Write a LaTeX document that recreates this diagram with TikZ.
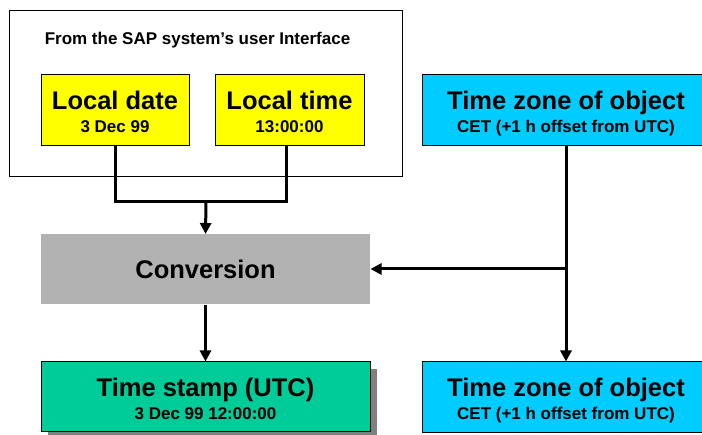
\documentclass[tikz,border=0pt]{standalone}
\usepackage{fontspec}
\setmainfont{Liberation Sans}
\usetikzlibrary{arrows.meta, shadows}

\definecolor{uiyellow}{HTML}{FFFF00}
\definecolor{zonecyan}{HTML}{00CCFF}
\definecolor{convgray}{HTML}{B2B2B2}
\definecolor{stampgreen}{HTML}{00CC99}
\definecolor{shadowgray}{HTML}{808080}

\newcommand{\bigtxt}{\fontsize{25.5}{22.7}\selectfont\bfseries}
\newcommand{\smalltxt}{\fontsize{17}{22.7}\selectfont\bfseries}
% title line over a small second line, baseline of the title at the box centre
\newcommand{\twolines}[2]{#1\rule{0pt}{25.7pt}\\{\smalltxt #2\rule[-4pt]{0pt}{4pt}}}

\begin{document}
\begin{tikzpicture}[x=1pt, y=-1pt]
    \useasboundingbox (0,0) rectangle (702,435);
    \tikzstyle{every node} = [rectangle, draw, line width=1pt, inner sep=0pt, align=center, font=\bigtxt]
    \tikzstyle{link} = [line width=3pt]
    \tikzstyle{tip} = [link, -{Triangle[length=11pt, width=11pt]}]

    % user interface frame
    \node [minimum width=393, minimum height=166, fill=white] (ui) at (205.5, 94) {};
    \node [draw=none, font=\smalltxt] (uititle) at (197.5, 40.5) {From the SAP system’s user Interface};

    \node [fill=uiyellow, minimum width=148, minimum height=71] (ldate) at (115, 110.5) {\twolines{Local date}{3 Dec 99}};
    \node [fill=uiyellow, minimum width=149, minimum height=71] (ltime) at (289.5, 110.5) {\twolines{Local time}{13:00:00}};

    \node [fill=zonecyan, minimum width=288, minimum height=71] (zonetop) at (566, 110.5) {\twolines{Time zone of object}{CET (+1 h offset from UTC)}};

    \node [draw=none, fill=convgray, minimum width=329, minimum height=70] (conv) at (205.5, 269.5) {Conversion};

    \node [fill=stampgreen, minimum width=329, minimum height=70,
           drop shadow={shadow xshift=7pt, shadow yshift=-7pt, fill=shadowgray, opacity=1}] (stamp) at (205.5, 397) {\twolines{Time stamp (UTC)}{3 Dec 99 12:00:00}};
    \node [fill=zonecyan, minimum width=288, minimum height=71] (zonebot) at (566, 397.5) {\twolines{Time zone of object}{CET (+1 h offset from UTC)}};

    \coordinate (join) at (206, 202);
    \coordinate (branch) at (566, 269);
    \draw [link] (ldate.south) |- (join) -| ([xshift=-3.5pt]ltime.south);
    \draw [tip] (join) -- (conv.north);
    \draw [tip] (zonetop.south) -- (zonebot.north);
    \draw [tip] (branch) -- (conv.east |- branch);
    \draw [tip] (conv.south) -- (stamp.north);
\end{tikzpicture}
\end{document}
